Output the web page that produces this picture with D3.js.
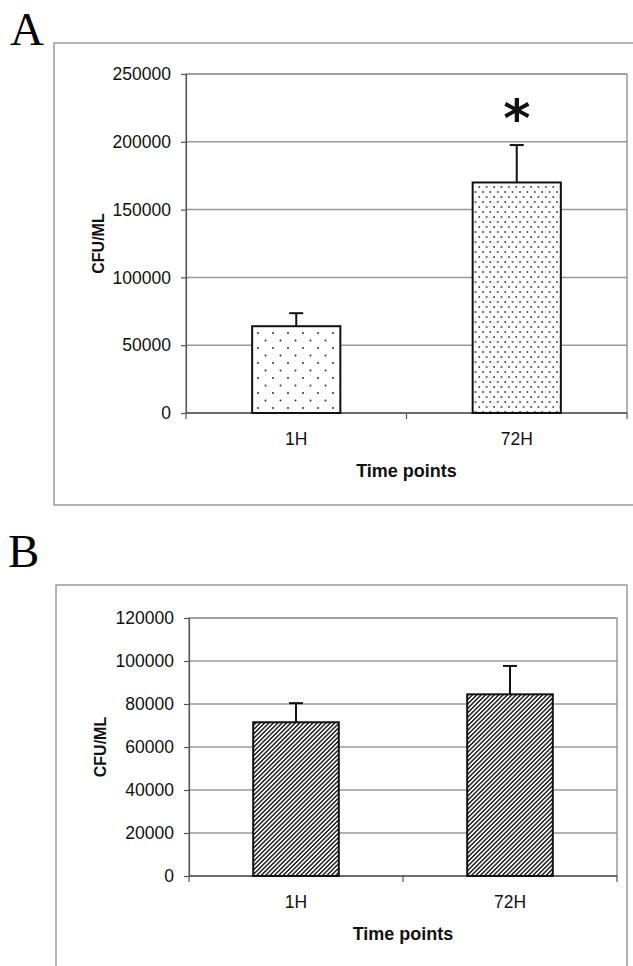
<!DOCTYPE html>
<html>
<head>
<meta charset="utf-8">
<script src="https://cdn.jsdelivr.net/npm/d3@7"></script>
<style>
  body { margin: 0; background: #fff; }
  svg { display: block; }
  .tick text { font-family: "Liberation Sans", Arial, sans-serif; }
</style>
</head>
<body>
<div id="vis"></div>
<script>
// data
var timePoints = ["1H", "72H"];
var cfuA = [64000, 170000];
var errA = [9600, 27600];
var cfuB = [71500, 84500];
var errB = [8900, 13200];
var ticksA = [0, 50000, 100000, 150000, 200000, 250000];
var ticksB = [0, 20000, 40000, 60000, 80000, 100000, 120000];
var panelLabels = ["A", "B"];
var yTitle = "CFU/ML";
var xTitle = "Time points";

var width = 633;
var height = 966;

var svg = d3.select('#vis').append('svg')
  .attr('width', width)
  .attr('height', height);

var defs = svg.append('defs');

// sparse dots (1H bar of panel A)
var p1 = defs.append('pattern')
  .attr('id', 'dotsSparse')
  .attr('patternUnits', 'userSpaceOnUse')
  .attr('width', 15).attr('height', 15);
p1.append('rect').attr('width', 15).attr('height', 15).attr('fill', '#fff');
p1.append('circle').attr('cx', 3).attr('cy', 3).attr('r', 1).attr('fill', '#333');
p1.append('circle').attr('cx', 10.5).attr('cy', 10.5).attr('r', 1).attr('fill', '#333');

// denser dots (72H bar of panel A)
var p2 = defs.append('pattern')
  .attr('id', 'dotsDense')
  .attr('patternUnits', 'userSpaceOnUse')
  .attr('width', 7.4).attr('height', 10);
p2.append('rect').attr('width', 7.4).attr('height', 10).attr('fill', '#fff');
p2.append('circle').attr('cx', 2).attr('cy', 2).attr('r', 0.9).attr('fill', '#333');
p2.append('circle').attr('cx', 5.7).attr('cy', 7).attr('r', 0.9).attr('fill', '#333');

// diagonal hatch (panel B)
var p3 = defs.append('pattern')
  .attr('id', 'hatch')
  .attr('patternUnits', 'userSpaceOnUse')
  .attr('width', 3.1).attr('height', 3.1)
  .attr('patternTransform', 'rotate(45)');
p3.append('rect').attr('width', 3.1).attr('height', 3.1).attr('fill', '#fff');
p3.append('line')
  .attr('x1', 0.8).attr('y1', 0).attr('x2', 0.8).attr('y2', 3.1)
  .attr('stroke', '#222').attr('stroke-width', 1.5);

/**
 * drawPanel - one bar chart with its frame,
 * gridlines, axes, bars and error bars
 */
function drawPanel(opt) {
  var g = svg.append('g');

  // outer frame
  g.append('rect')
    .attr('x', opt.frame[0]).attr('y', opt.frame[1])
    .attr('width', opt.frame[2]).attr('height', opt.frame[3])
    .attr('fill', 'none').attr('stroke', '#999').attr('stroke-width', 1.5);

  // panel letter
  g.append('text')
    .attr('x', opt.letterPos[0]).attr('y', opt.letterPos[1])
    .attr('font-family', '"Liberation Serif", "Times New Roman", serif')
    .attr('font-size', 47)
    .text(opt.letter);

  var x = d3.scaleBand()
    .domain(timePoints)
    .range([opt.left, opt.right]);
  var y = d3.scaleLinear()
    .domain([0, d3.max(opt.ticks)])
    .range([opt.bottom, opt.top]);

  // plot area border + gridlines
  g.append('rect')
    .attr('x', opt.left).attr('y', opt.top)
    .attr('width', opt.right - opt.left).attr('height', opt.bottom - opt.top)
    .attr('fill', 'none').attr('stroke', '#999').attr('stroke-width', 1.5);
  g.selectAll('.grid')
    .data(opt.ticks.slice(1))
    .enter().append('line')
    .attr('class', 'grid')
    .attr('x1', opt.left).attr('x2', opt.right)
    .attr('y1', function (d) { return y(d); })
    .attr('y2', function (d) { return y(d); })
    .attr('stroke', '#999').attr('stroke-width', 1.5);

  // y axis
  var yAxis = d3.axisLeft(y)
    .tickValues(opt.ticks)
    .tickFormat(d3.format('d'))
    .tickSize(5)
    .tickPadding(10);
  var ya = g.append('g')
    .attr('transform', 'translate(' + opt.left + ',0)')
    .call(yAxis);
  ya.select('.domain').attr('stroke', '#555').attr('stroke-width', 1.2);
  ya.selectAll('.tick line').attr('stroke', '#555').attr('stroke-width', 1.2);
  ya.selectAll('.tick text')
    .attr('font-size', 17.5)
    .attr('fill', '#111');

  // x axis (ticks at category edges)
  g.append('line')
    .attr('x1', opt.left).attr('x2', opt.right)
    .attr('y1', opt.bottom).attr('y2', opt.bottom)
    .attr('stroke', '#555').attr('stroke-width', 1.5);
  var edges = timePoints.map(function (d) { return x(d); }).concat([opt.right]);
  g.selectAll('.xtick')
    .data(edges)
    .enter().append('line')
    .attr('x1', function (d) { return d; })
    .attr('x2', function (d) { return d; })
    .attr('y1', opt.bottom).attr('y2', opt.bottom + 6)
    .attr('stroke', '#555').attr('stroke-width', 1.2);
  g.selectAll('.xlabel')
    .data(timePoints)
    .enter().append('text')
    .attr('x', function (d) { return x(d) + x.bandwidth() / 2; })
    .attr('y', opt.bottom + 32)
    .attr('text-anchor', 'middle')
    .attr('font-family', '"Liberation Sans", Arial, sans-serif')
    .attr('font-size', 17.5)
    .attr('fill', '#111')
    .text(function (d) { return d; });

  // axis titles
  g.append('text')
    .attr('x', (opt.left + opt.right) / 2)
    .attr('y', opt.bottom + 64)
    .attr('text-anchor', 'middle')
    .attr('font-family', '"Liberation Sans", Arial, sans-serif')
    .attr('font-weight', 'bold')
    .attr('font-size', 18)
    .attr('fill', '#111')
    .text(xTitle);
  g.append('text')
    .attr('transform', 'translate(' + opt.yTitleX + ',' + (opt.top + opt.bottom) / 2 + ') rotate(-90)')
    .attr('text-anchor', 'middle')
    .attr('font-family', '"Liberation Sans", Arial, sans-serif')
    .attr('font-weight', 'bold')
    .attr('font-size', 16)
    .attr('fill', '#111')
    .text(yTitle);

  // bars
  var barW = x.bandwidth() * 0.4;
  var bars = timePoints.map(function (d, i) {
    return { name: d, value: opt.values[i], err: opt.errors[i], fill: opt.fills[i] };
  });

  g.selectAll('.errbar')
    .data(bars)
    .enter().append('line')
    .attr('x1', function (d) { return x(d.name) + x.bandwidth() / 2; })
    .attr('x2', function (d) { return x(d.name) + x.bandwidth() / 2; })
    .attr('y1', function (d) { return y(d.value); })
    .attr('y2', function (d) { return y(d.value + d.err); })
    .attr('stroke', '#111').attr('stroke-width', 2);
  g.selectAll('.errcap')
    .data(bars)
    .enter().append('line')
    .attr('x1', function (d) { return x(d.name) + x.bandwidth() / 2 - 7; })
    .attr('x2', function (d) { return x(d.name) + x.bandwidth() / 2 + 7; })
    .attr('y1', function (d) { return y(d.value + d.err); })
    .attr('y2', function (d) { return y(d.value + d.err); })
    .attr('stroke', '#111').attr('stroke-width', 2);

  g.selectAll('.bar')
    .data(bars)
    .enter().append('rect')
    .attr('class', 'bar')
    .attr('x', function (d) { return x(d.name) + (x.bandwidth() - barW) / 2; })
    .attr('width', barW)
    .attr('y', function (d) { return y(d.value); })
    .attr('height', function (d) { return opt.bottom - y(d.value); })
    .attr('fill', function (d) { return d.fill; })
    .attr('stroke', '#111').attr('stroke-width', 2);

  return { x: x, y: y, bars: bars };
}

var panelA = drawPanel({
  letter: panelLabels[0], letterPos: [10, 45],
  frame: [54, 43, 600, 462],
  left: 186, right: 627, top: 74, bottom: 413,
  ticks: ticksA, values: cfuA, errors: errA,
  fills: ['url(#dotsSparse)', 'url(#dotsDense)'],
  yTitleX: 104
});

var panelB = drawPanel({
  letter: panelLabels[1], letterPos: [8, 567],
  frame: [56, 585, 571, 400],
  left: 189, right: 617, top: 618, bottom: 876,
  ticks: ticksB, values: cfuB, errors: errB,
  fills: ['url(#hatch)', 'url(#hatch)'],
  yTitleX: 106
});

// significance mark above the 72H bar in panel A
var star = panelA.bars[1];
svg.append('text')
  .attr('x', panelA.x(star.name) + panelA.x.bandwidth() / 2)
  .attr('y', panelA.y(star.value + star.err) - 9)
  .attr('text-anchor', 'middle')
  .attr('font-family', '"DejaVu Sans", sans-serif')
  .attr('font-weight', 'bold')
  .attr('font-size', 52)
  .attr('fill', '#111')
  .text('*');
</script>
</body>
</html>
